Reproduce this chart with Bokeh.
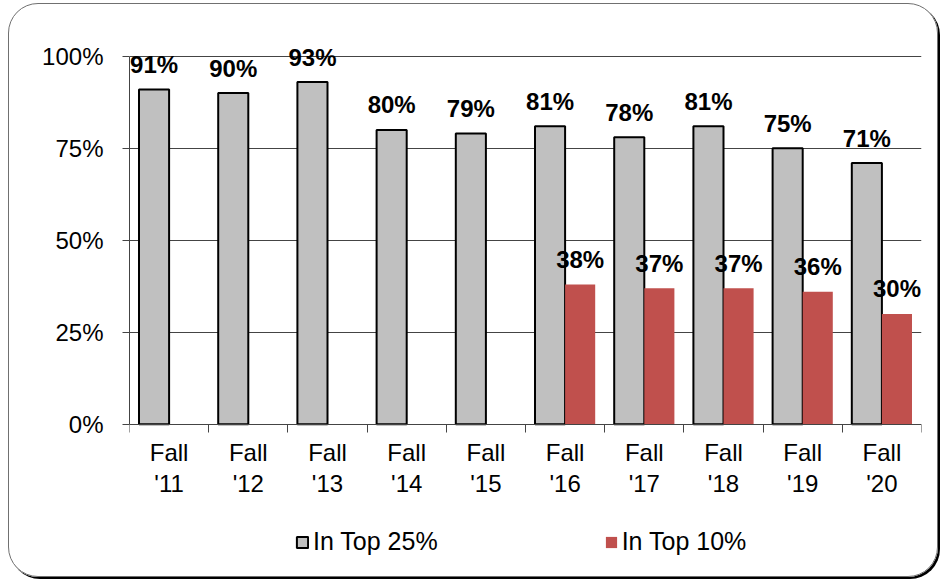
from bokeh.plotting import figure
from bokeh.models import FixedTicker, Legend, LegendItem, Range1d
from bokeh.core.properties import value
from bokeh.embed import file_html
from bokeh.resources import INLINE

# ---- data ----
categories = ["Fall '11", "Fall '12", "Fall '13", "Fall '14", "Fall '15",
              "Fall '16", "Fall '17", "Fall '18", "Fall '19", "Fall '20"]
top25 = [91, 90, 93, 80, 79, 81, 78, 81, 75, 71]
top10_categories = ["Fall '16", "Fall '17", "Fall '18", "Fall '19", "Fall '20"]
top10 = [38, 37, 37, 36, 30]
y_ticks = [0, 25, 50, 75, 100]
series_names = ["In Top 25%", "In Top 10%"]

FONT = value("Liberation Sans")
GRAY = "#C0C0C0"
RED = "#C0504D"
LINE = "#444444"

idx = {c: i for i, c in enumerate(categories)}
x25 = [idx[c] + 0.5 - 0.19 for c in categories]
x10 = [idx[c] + 0.5 + 0.19 for c in top10_categories]

# frame extends below 0 so the category labels and legend sit inside it
p = figure(width=930, height=574, output_backend="svg", toolbar_location=None,
           x_range=Range1d(0, len(categories)), y_range=Range1d(-40, 110),
           min_border_left=120, min_border_right=18, min_border_top=15,
           min_border_bottom=7)
p.outline_line_color = None
p.background_fill_color = None
p.border_fill_color = None
p.styles = {"border": "1px solid #707070", "border-radius": "30px",
            "box-shadow": "2px 2px 0 0 #000000",
            "margin-left": "8px", "margin-top": "3px"}

# grid
p.xgrid.visible = False
p.ygrid.ticker = FixedTicker(ticks=[t for t in y_ticks if t > 0])
p.ygrid.grid_line_color = LINE
p.ygrid.grid_line_width = 1

# y axis
ya = p.yaxis[0]
ya.ticker = FixedTicker(ticks=y_ticks)
ya.major_label_overrides = {t: f"{t}%" for t in y_ticks}
ya.bounds = (0, 100)
ya.major_tick_out = 7
ya.major_tick_in = 0
ya.minor_tick_out = 0
ya.minor_tick_in = 0
ya.major_label_standoff = 19
ya.axis_line_color = LINE
ya.major_tick_line_color = LINE
ya.major_label_text_font = "Liberation Sans"
ya.major_label_text_font_size = "24px"
ya.major_label_text_color = "black"

# x axis at y=0: labels at category centres, ticks at category boundaries
xa = p.xaxis[0]
xa.fixed_location = 0
centres = [i + 0.5 for i in range(len(categories))]
xa.ticker = FixedTicker(ticks=centres, minor_ticks=list(range(len(categories) + 1)))
xa.major_label_overrides = {c: lab.replace(" ", "\n") for c, lab in zip(centres, categories)}
xa.major_tick_out = 0
xa.major_tick_in = 0
xa.minor_tick_out = 8
xa.minor_tick_in = 0
xa.minor_tick_line_color = LINE
xa.axis_line_color = LINE
xa.major_label_standoff = 7
xa.major_label_text_font = "Liberation Sans"
xa.major_label_text_font_size = "24px"
xa.major_label_text_line_height = 1.15
xa.major_label_text_color = "black"

# bars
r25 = p.vbar(x=x25, top=top25, width=0.38, fill_color=GRAY,
             line_color="black", line_width=2)
r10 = p.vbar(x=x10, top=top10, width=0.38, fill_color=RED, line_color=None)

# value labels
p.text(x=x25, y=top25, text=[f"{v}%" for v in top25], text_align="center",
       text_baseline="alphabetic", y_offset=-25, text_font=FONT,
       text_font_style="bold", text_font_size="24px", text_color="black")
p.text(x=x10, y=top10, text=[f"{v}%" for v in top10], text_align="center",
       text_baseline="alphabetic", y_offset=-25, text_font=FONT,
       text_font_style="bold", text_font_size="24px", text_color="black")

legend = Legend(items=[LegendItem(label=series_names[0], renderers=[r25]),
                       LegendItem(label=series_names[1], renderers=[r10])],
                location=(166, 15), orientation="horizontal",
                padding=0, margin=0, spacing=166, label_standoff=4,
                glyph_width=14, glyph_height=14,
                label_text_font="Liberation Sans", label_text_font_size="25px",
                label_text_color="black",
                border_line_color=None, background_fill_alpha=0)
p.add_layout(legend, "center")

open("out.html", "w").write(file_html(p, INLINE))
